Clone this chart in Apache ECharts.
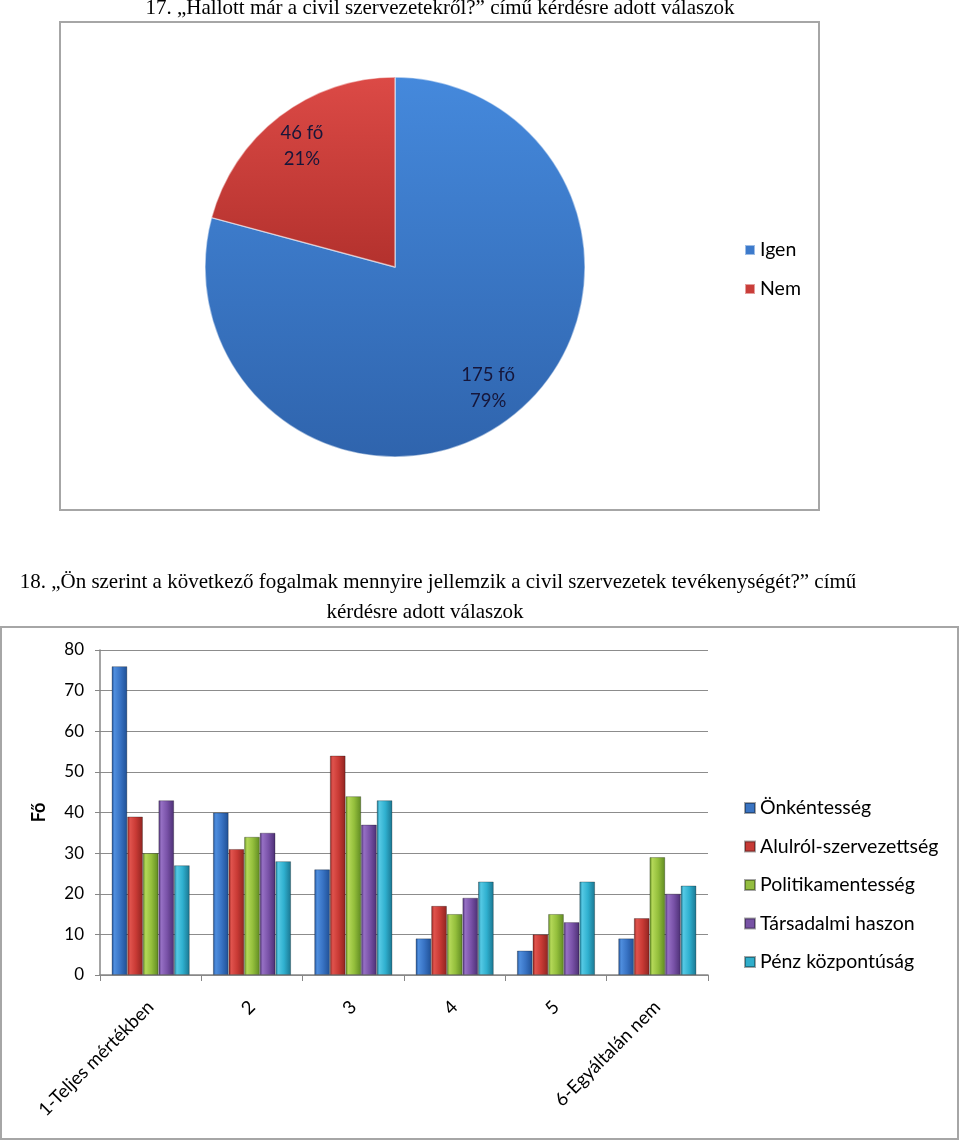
<!DOCTYPE html>
<html><head><meta charset="utf-8">
<script src="https://cdn.jsdelivr.net/npm/echarts@6/dist/echarts.min.js"></script>
<style>html,body{margin:0;padding:0;background:#fff}#c{width:960px;height:1142px}</style>
</head><body><div id="c"></div>
<script>
// Pie data
const pieNames = ['Igen', 'Nem'];
const pieValues = [175, 46];
const pieLabels = ['175 fő\n79%', '46 fő\n21%'];
// Bar data
const categories = ['1-Teljes mértékben', '2', '3', '4', '5', '6-Egyáltalán nem'];
const seriesNames = ['Önkéntesség', 'Alulról-szervezettség', 'Politikamentesség', 'Társadalmi haszon', 'Pénz központúság'];
const s1 = [76, 40, 26, 9, 6, 9];
const s2 = [39, 31, 54, 17, 10, 14];
const s3 = [30, 34, 44, 15, 15, 29];
const s4 = [43, 35, 37, 19, 13, 20];
const s5 = [27, 28, 43, 23, 23, 22];
const yTicks = [0, 10, 20, 30, 40, 50, 60, 70, 80];

const title1 = '17. „Hallott már a civil szervezetekről?” című kérdésre adott válaszok';
const title2a = '18. „Ön szerint a következő fogalmak mennyire jellemzik a civil szervezetek tevékenységét?” című';
const title2b = 'kérdésre adott válaszok';

const G = echarts.graphic;
function barGrad(dark, light, mid) {
  return new G.LinearGradient(0, 0, 1, 0, [
    {offset: 0, color: dark}, {offset: 0.18, color: light}, {offset: 0.55, color: mid}, {offset: 1, color: dark}
  ]);
}
const barColors = [
  barGrad('#1f4f94', '#4f8ede', '#3873c4'),
  barGrad('#8e2420', '#e0534d', '#c93a35'),
  barGrad('#5f8a22', '#b4d858', '#94bf3c'),
  barGrad('#4b2f73', '#9670c4', '#7952a8'),
  barGrad('#1a7590', '#55c9e4', '#2fb0cf')
];
const legendSolid = ['#3a74c2', '#c63a36', '#93bd40', '#7752a4', '#30aecb'];
const pieColors = [
  new G.LinearGradient(0, 0, 0, 1, [{offset: 0, color: '#4589dc'}, {offset: 1, color: '#2f64ad'}]),
  new G.LinearGradient(0, 0, 0, 1, [{offset: 0, color: '#dc4a46'}, {offset: 1, color: '#b3312d'}])
];
const pieLegendSolid = ['#3c7acb', '#c93d39'];

const font = 'Lato, "Open Sans", sans-serif';
const serif = '"Liberation Serif", "DejaVu Serif", serif';

const allSeries = [s1, s2, s3, s4, s5];

const chart = echarts.init(document.getElementById('c'), null, {renderer: 'canvas'});
chart.setOption({
  animation: false,
  backgroundColor: '#fff',
  graphic: [
    {type: 'rect', shape: {x: 60, y: 22, width: 759, height: 488}, style: {fill: 'none', stroke: '#a6a6a6', lineWidth: 2}, z: 0},
    {type: 'rect', shape: {x: 1, y: 627, width: 957, height: 512}, style: {fill: 'none', stroke: '#a6a6a6', lineWidth: 2}, z: 0},
    {type: 'text', x: 440, y: 8, style: {text: title1, font: '21px ' + serif, fill: '#000', textAlign: 'center', textVerticalAlign: 'middle'}},
    {type: 'text', x: 438, y: 582, style: {text: title2a, font: '21px ' + serif, fill: '#000', textAlign: 'center', textVerticalAlign: 'middle'}},
    {type: 'text', x: 425, y: 612, style: {text: title2b, font: '21px ' + serif, fill: '#000', textAlign: 'center', textVerticalAlign: 'middle'}}
  ],
  legend: [
    {
      orient: 'vertical', left: 739, top: 234, itemWidth: 10, itemHeight: 10, itemGap: 17, icon: 'rect',
      textStyle: {fontFamily: font, fontSize: 19.5, color: '#000', lineHeight: 22},
      data: pieNames.map((n, i) => ({name: n, itemStyle: {color: pieLegendSolid[i]}}))
    },
    {
      orient: 'vertical', left: 739, top: 792, itemWidth: 10, itemHeight: 10, itemGap: 16.5, icon: 'rect',
      textStyle: {fontFamily: font, fontSize: 19.5, color: '#000', lineHeight: 22},
      data: seriesNames.map((n, i) => ({name: n, itemStyle: {color: legendSolid[i]}}))
    }
  ],
  grid: {left: 100, right: 252, top: 650, bottom: 167, containLabel: false},
  xAxis: {
    type: 'category', data: categories,
    axisLine: {lineStyle: {color: '#868686', width: 1.5}},
    axisTick: {show: true, length: 6, lineStyle: {color: '#868686'}},
    axisLabel: {rotate: 45, fontFamily: font, fontSize: 18.5, color: '#000', margin: 29, interval: 0}
  },
  yAxis: {
    type: 'value', min: 0, max: 80, interval: 10,
    name: 'Fő', nameLocation: 'middle', nameGap: 52, nameRotate: 90,
    nameTextStyle: {fontFamily: font, fontSize: 18, fontWeight: 'bold', color: '#000'},
    axisLine: {show: true, lineStyle: {color: '#868686', width: 1.5}},
    axisTick: {show: true, length: 5, lineStyle: {color: '#868686'}},
    axisLabel: {fontFamily: font, fontSize: 17, color: '#000', margin: 16,
      formatter: v => yTicks.includes(v) ? String(v) : ''},
    splitLine: {show: true, lineStyle: {color: '#8c8c8c', width: 1.2}}
  },
  series: [
    {
      type: 'pie', name: 'p', center: [395, 267], radius: [0, 190], startAngle: 90, clockwise: true,
      legendHoverLink: false,
      data: pieNames.map((n, i) => ({name: n, value: pieValues[i], itemStyle: {color: pieColors[i]}})),
      itemStyle: {borderColor: 'rgba(255,255,255,0.5)', borderWidth: 1.5},
      label: {show: false}, labelLine: {show: false}
    },
    {
      type: 'pie', name: 'plabels', center: [395, 267], radius: [0, 300], startAngle: 90, clockwise: true,
      silent: true,
      data: pieNames.map((n, i) => ({name: n, value: pieValues[i], itemStyle: {color: 'rgba(0,0,0,0)'},
        label: {formatter: pieLabels[i]}})),
      label: {show: true, position: 'inside', fontFamily: font, fontSize: 18.5, color: '#16163a', lineHeight: 26},
      labelLine: {show: false}
    }
  ].concat(allSeries.map((d, i) => ({
    type: 'bar', name: seriesNames[i], data: d,
    barGap: '0%', barCategoryGap: '23%',
    itemStyle: {color: barColors[i], borderColor: 'rgba(0,0,0,0.35)', borderWidth: 0.8}
  })))
});
</script></body></html>
